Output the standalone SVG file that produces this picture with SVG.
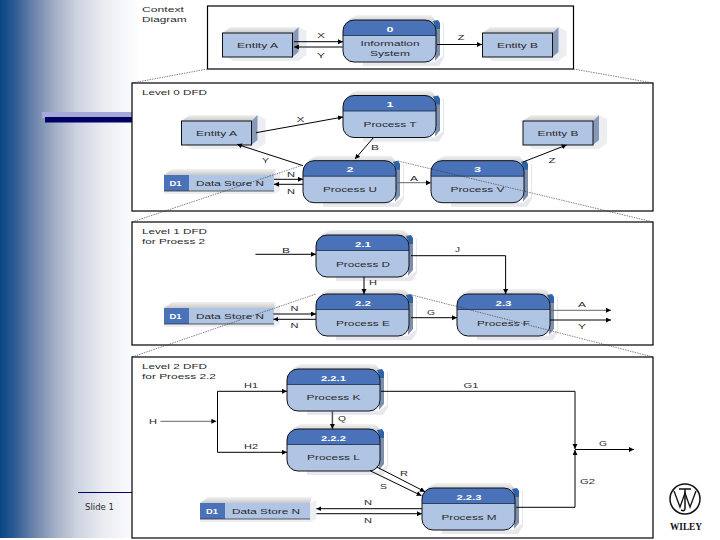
<svg xmlns="http://www.w3.org/2000/svg" xmlns:xlink="http://www.w3.org/1999/xlink" width="720" height="540" viewBox="0 0 720 540">
<style>
text{font-family:"Liberation Sans",Arial,sans-serif;font-size:8px;fill:#2a2a2a;text-anchor:middle}
.l{text-anchor:start}
.n{font-weight:bold;fill:#fff}
.frame{fill:#fff;stroke:#000;stroke-width:1.2}
.c{fill:none;stroke:#000;stroke-width:1;marker-end:url(#ah)}
.g{fill:none;stroke:#666;stroke-width:1;marker-end:url(#ah)}
.t{stroke-width:1.5;stroke:#555}
.p{fill:none;stroke:#000;stroke-width:1}
.d{fill:none;stroke:#333;stroke-width:.6;stroke-dasharray:1.5 1}
</style>
<defs>
<linearGradient id="bg" x1="0" x2="1" y1="0" y2="0">
<stop offset="0" stop-color="#0a4585"/><stop offset=".1" stop-color="#2d5a94"/><stop offset=".25" stop-color="#6f86ac"/><stop offset=".4" stop-color="#a5b1c8"/><stop offset=".55" stop-color="#cdd3e0"/><stop offset=".75" stop-color="#ebedf2"/><stop offset="1" stop-color="#fff"/>
</linearGradient>
<linearGradient id="top" x1="0" x2="0" y1="0" y2="1"><stop offset="0" stop-color="#f2f2f2"/><stop offset="1" stop-color="#c9c9c9"/></linearGradient>
<marker id="ah" markerUnits="userSpaceOnUse" markerWidth="6" markerHeight="6" refX="5" refY="2.5" orient="auto"><path d="M0 0L5 2.5L0 5Z" fill="#000"/></marker>
<g id="proc">
<polygon points="5,0 14,-5 88,-5 95,3" fill="url(#top)"/>
<polygon points="93,8 100,3 100,36 92,42 20,42 20,46 96,46 101,38 101,3" fill="#e6e8ed"/>
<polygon points="93,8 97,4 97,35 92,41" fill="#7d8fae"/>
<path d="M90 1L95 0L97 3L97 9L93 9Z" fill="#2f63a8"/>
<rect x="0" y="0" width="93" height="42" rx="11" fill="#b0c4e4"/>
<path d="M0 15.500V11A11 11 0 0 1 11 0H82A11 11 0 0 1 93 11V15.500Z" fill="#4a72b8"/>
<path d="M0 15.500H93" stroke="#1a2a44" stroke-width=".8"/>
<rect x="0" y="0" width="93" height="42" rx="11" fill="none" stroke="#111" stroke-width="1"/>
</g>
<g id="ent">
<polygon points="0,0 8,-6 76,-6 70,0" fill="url(#top)"/>
<polygon points="76,-6 84,-2 84,22 76,28 10,28 4,24 70,24" fill="#eceef2"/>
<polygon points="70,0 76,-6 76,19 70,24" fill="#8799b8"/>
<rect width="70" height="24" fill="#b0c4e4" stroke="#111" stroke-width="1"/>
</g>
<g id="store">
<polygon points="0,0 8,-6 112,-6 110,0" fill="url(#top)"/>
<polygon points="110,0 116,-3 116,16 110,19 0,19 0,16 110,16" fill="#eceef2"/>
<rect width="110" height="16" fill="#b0c4e4"/>
<rect width="25" height="16" fill="#4a72b8"/>
<path d="M0 16H110" stroke="#333" stroke-width=".8"/>
</g>
</defs>
<rect width="720" height="538" fill="#fff"/>
<rect width="140" height="538" fill="url(#bg)"/>
<g id="slide-chrome">
<rect x="42" y="112" width="92" height="6" fill="#a6a8d8"/>
<rect x="45" y="117" width="89" height="5.500" fill="#000066"/>
<line x1="78" y1="492.500" x2="134" y2="492.500" stroke="#000066" stroke-width="1"/>
<text class="l" x="85" y="510" style="font-family:'DejaVu Sans',sans-serif;font-size:9px" textLength="29" lengthAdjust="spacingAndGlyphs">Slide 1</text>
</g>
<g id="frames">
<rect class="frame" x="207.500" y="6" width="366" height="63"/>
<rect class="frame" x="132" y="83" width="521" height="128"/>
<rect class="frame" x="132" y="222" width="521" height="123"/>
<rect class="frame" x="132" y="357" width="521" height="181"/>
<text class="l" x="142" y="12" textLength="42" lengthAdjust="spacingAndGlyphs">Context</text>
<text class="l" x="142" y="22" textLength="44.700" lengthAdjust="spacingAndGlyphs">Diagram</text>
<text class="l" x="142" y="95" textLength="65" lengthAdjust="spacingAndGlyphs">Level 0 DFD</text>
<text class="l" x="142" y="234" textLength="65" lengthAdjust="spacingAndGlyphs">Level 1 DFD</text>
<text class="l" x="142" y="244" textLength="63" lengthAdjust="spacingAndGlyphs">for Proess 2</text>
<text class="l" x="142" y="369" textLength="65" lengthAdjust="spacingAndGlyphs">Level 2 DFD</text>
<text class="l" x="142" y="379" textLength="74" lengthAdjust="spacingAndGlyphs">for Proess 2.2</text>
</g>
<g id="entity-a-context"><use xlink:href="#ent" href="#ent" x="222.500" y="33"/><text x="257.500" y="48" textLength="41" lengthAdjust="spacingAndGlyphs">Entity A</text></g>
<g id="process-0"><use xlink:href="#proc" href="#proc" x="343" y="20"/><text class="n" x="390" y="32" textLength="7" lengthAdjust="spacingAndGlyphs">0</text><text x="390" y="46" textLength="59" lengthAdjust="spacingAndGlyphs">Information</text><text x="390" y="55.500" textLength="40" lengthAdjust="spacingAndGlyphs">System</text></g>
<g id="entity-b-context"><use xlink:href="#ent" href="#ent" x="482.500" y="33"/><text x="517.500" y="48" textLength="41" lengthAdjust="spacingAndGlyphs">Entity B</text></g>
<g id="entity-a-l0"><use xlink:href="#ent" href="#ent" x="181.500" y="121"/><text x="216.500" y="136" textLength="41" lengthAdjust="spacingAndGlyphs">Entity A</text></g>
<g id="process-1"><use xlink:href="#proc" href="#proc" x="343" y="95.500"/><text class="n" x="390" y="107" textLength="7" lengthAdjust="spacingAndGlyphs">1</text><text x="390" y="127" textLength="53" lengthAdjust="spacingAndGlyphs">Process T</text></g>
<g id="entity-b-l0"><use xlink:href="#ent" href="#ent" x="523" y="121"/><text x="558" y="136" textLength="41" lengthAdjust="spacingAndGlyphs">Entity B</text></g>
<g id="store-l0"><use xlink:href="#store" href="#store" x="164" y="175"/><text class="n" x="175.500" y="186" textLength="12" lengthAdjust="spacingAndGlyphs">D1</text><text x="230" y="186" textLength="68" lengthAdjust="spacingAndGlyphs">Data Store N</text></g>
<g id="process-2"><use xlink:href="#proc" href="#proc" x="303" y="160.700"/><text class="n" x="350" y="172" textLength="7" lengthAdjust="spacingAndGlyphs">2</text><text x="350" y="192" textLength="54" lengthAdjust="spacingAndGlyphs">Process U</text></g>
<g id="process-3"><use xlink:href="#proc" href="#proc" x="431" y="160.700"/><text class="n" x="477.500" y="172" textLength="7" lengthAdjust="spacingAndGlyphs">3</text><text x="477.500" y="192" textLength="54" lengthAdjust="spacingAndGlyphs">Process V</text></g>
<g id="process-2-1"><use xlink:href="#proc" href="#proc" x="316" y="235"/><text class="n" x="363" y="247" textLength="16" lengthAdjust="spacingAndGlyphs">2.1</text><text x="363" y="267" textLength="54" lengthAdjust="spacingAndGlyphs">Process D</text></g>
<g id="process-2-2"><use xlink:href="#proc" href="#proc" x="316" y="294"/><text class="n" x="363" y="306" textLength="16" lengthAdjust="spacingAndGlyphs">2.2</text><text x="363" y="326" textLength="54" lengthAdjust="spacingAndGlyphs">Process E</text></g>
<g id="process-2-3"><use xlink:href="#proc" href="#proc" x="457" y="294"/><text class="n" x="503.500" y="306" textLength="16" lengthAdjust="spacingAndGlyphs">2.3</text><text x="503.500" y="326" textLength="53" lengthAdjust="spacingAndGlyphs">Process F</text></g>
<g id="store-l1"><use xlink:href="#store" href="#store" x="164" y="308"/><text class="n" x="175.500" y="319" textLength="12" lengthAdjust="spacingAndGlyphs">D1</text><text x="230" y="319" textLength="68" lengthAdjust="spacingAndGlyphs">Data Store N</text></g>
<g id="process-2-2-1"><use xlink:href="#proc" href="#proc" x="287" y="369"/><text class="n" x="333.500" y="381" textLength="25" lengthAdjust="spacingAndGlyphs">2.2.1</text><text x="333.500" y="400" textLength="54" lengthAdjust="spacingAndGlyphs">Process K</text></g>
<g id="process-2-2-2"><use xlink:href="#proc" href="#proc" x="287" y="429"/><text class="n" x="333.500" y="440.500" textLength="25" lengthAdjust="spacingAndGlyphs">2.2.2</text><text x="333.500" y="460" textLength="53" lengthAdjust="spacingAndGlyphs">Process L</text></g>
<g id="process-2-2-3"><use xlink:href="#proc" href="#proc" x="422" y="488"/><text class="n" x="469" y="500" textLength="25" lengthAdjust="spacingAndGlyphs">2.2.3</text><text x="469" y="520" textLength="55" lengthAdjust="spacingAndGlyphs">Process M</text></g>
<g id="store-l2"><use xlink:href="#store" href="#store" x="200" y="503"/><text class="n" x="212" y="514" textLength="12" lengthAdjust="spacingAndGlyphs">D1</text><text x="266" y="514" textLength="68" lengthAdjust="spacingAndGlyphs">Data Store N</text></g>
<g id="connectors">
<path class="c" d="M294 41.700H343"/><path class="g t" d="M343 47H294"/><path class="c" d="M437 44.500H482"/>
<path class="c" d="M256 132.700L343 117"/><path class="c" d="M303 165.700L237 144.300"/><path class="c" d="M374 137L355 159"/>
<path class="c" d="M274 179.300H303"/><path class="c" d="M303 184.300H274"/><path class="g" d="M395 182.700H431"/><path class="c" d="M523 162L566.600 145"/>
<path class="c" d="M255.400 254.300H316"/><path class="c" d="M411 255.700H505.600V294"/><path class="c" d="M364 276.700V294"/>
<path class="c" d="M273.400 314H316"/><path class="c" d="M316 319.300H273.400"/><path class="c" d="M411 317.700H457"/>
<path class="g" d="M550 310.300H611"/><path class="c" d="M550 320H611"/>
<path class="g" d="M160.500 421.300H216.400"/><path class="p" d="M217.500 391.300V452.300"/>
<path class="c" d="M217.500 391.300H287"/><path class="c" d="M217.500 452.300H287"/>
<path class="c" d="M381 391.300H575V449"/><path class="c" d="M516.400 507.300H575V450"/><path class="c" d="M575 449.500H634"/>
<path class="g t" d="M332.400 411V429"/><path class="c" d="M376.800 467L425 491.700"/><path class="c" d="M370 470.700L421.500 495.700"/>
<path class="c" d="M422 508.700H316.400"/><path class="c" d="M316.400 513.700H422"/>
</g>
<g id="labels">
<text x="321" y="38" textLength="8" lengthAdjust="spacingAndGlyphs">X</text><text x="321" y="58" textLength="8" lengthAdjust="spacingAndGlyphs">Y</text><text x="461" y="40" textLength="7" lengthAdjust="spacingAndGlyphs">Z</text>
<text x="300.500" y="122" textLength="8" lengthAdjust="spacingAndGlyphs">X</text><text x="265.600" y="163" textLength="7" lengthAdjust="spacingAndGlyphs">Y</text><text x="375" y="150" textLength="8" lengthAdjust="spacingAndGlyphs">B</text>
<text x="291" y="177" textLength="8" lengthAdjust="spacingAndGlyphs">N</text><text x="291" y="194" textLength="8" lengthAdjust="spacingAndGlyphs">N</text><text x="414" y="180.500" textLength="8" lengthAdjust="spacingAndGlyphs">A</text><text x="552" y="163" textLength="7" lengthAdjust="spacingAndGlyphs">Z</text>
<text x="286" y="253" textLength="8" lengthAdjust="spacingAndGlyphs">B</text><text x="457.500" y="252" textLength="5" lengthAdjust="spacingAndGlyphs">J</text><text x="373" y="285" textLength="8" lengthAdjust="spacingAndGlyphs">H</text>
<text x="294.400" y="311" textLength="8" lengthAdjust="spacingAndGlyphs">N</text><text x="294.400" y="328" textLength="8" lengthAdjust="spacingAndGlyphs">N</text><text x="431" y="314.500" textLength="8" lengthAdjust="spacingAndGlyphs">G</text>
<text x="582" y="307" textLength="8" lengthAdjust="spacingAndGlyphs">A</text><text x="582" y="329" textLength="8" lengthAdjust="spacingAndGlyphs">Y</text>
<text x="153" y="424" textLength="8" lengthAdjust="spacingAndGlyphs">H</text><text x="251" y="388" textLength="14" lengthAdjust="spacingAndGlyphs">H1</text><text x="251" y="449" textLength="14" lengthAdjust="spacingAndGlyphs">H2</text>
<text x="471" y="388" textLength="15" lengthAdjust="spacingAndGlyphs">G1</text><text x="587.600" y="484" textLength="15" lengthAdjust="spacingAndGlyphs">G2</text><text x="603" y="446" textLength="8" lengthAdjust="spacingAndGlyphs">G</text>
<text x="342" y="421" textLength="8" lengthAdjust="spacingAndGlyphs">Q</text><text x="404" y="476" textLength="8" lengthAdjust="spacingAndGlyphs">R</text><text x="383.500" y="489" textLength="7" lengthAdjust="spacingAndGlyphs">S</text>
<text x="368" y="505" textLength="8" lengthAdjust="spacingAndGlyphs">N</text><text x="368" y="522.500" textLength="8" lengthAdjust="spacingAndGlyphs">N</text>
</g>
<g id="zoom-lines">
<path class="d" d="M207.500 69L132 83"/><path class="d" d="M573.500 69L653 83"/>
<path class="d" d="M132 222L303 165"/><path class="d" d="M398 161L653 222"/>
<path class="d" d="M132 357L316 294"/><path class="d" d="M412 295L653 357"/>
</g>
<g id="logo">
<circle cx="685" cy="499" r="15" fill="none" stroke="#111" stroke-width="1.500"/>
<path d="M674 491L680 507L685 493L690 507L696 491" fill="none" stroke="#111" stroke-width="1.300"/>
<path d="M679 489H691M685 489V508Q685 512 681 510" fill="none" stroke="#111" stroke-width="1.500"/>
<text x="686" y="530" style="font-family:'Liberation Serif',serif;font-weight:bold;font-size:9.500px;fill:#111" textLength="32" lengthAdjust="spacingAndGlyphs">WILEY</text>
</g>
</svg>
